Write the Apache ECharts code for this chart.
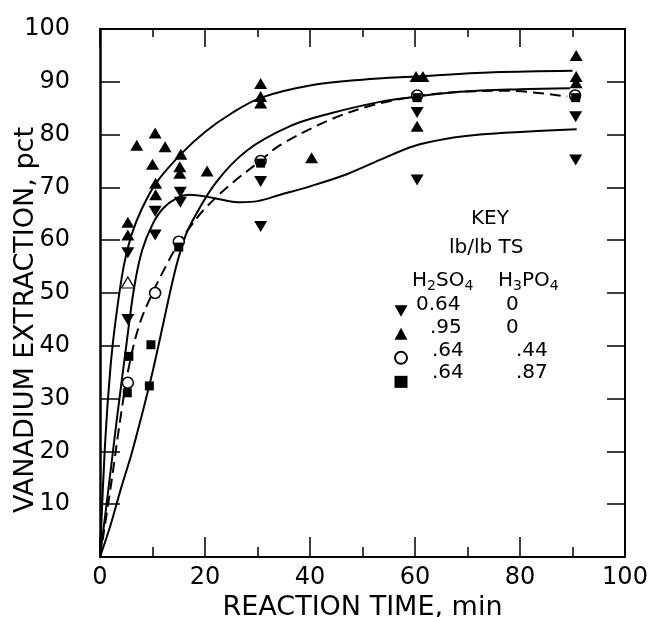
<!DOCTYPE html>
<html>
<head>
  <meta charset="utf-8">
  <title>Vanadium extraction</title>
  <script src="https://cdn.jsdelivr.net/npm/echarts@6/dist/echarts.min.js"></script>
</head>
<body style="margin:0">
  <div id="main" style="width:655px;height:617px;"></div>
  <script type="text/javascript">
    // measured points, [time min, extraction pct]
    var ptsDown = [[5.3, 57.6], [5.3, 45], [10.5, 65.5], [10.5, 61], [15.3, 69.1], [15.3, 67.2],
      [30.6, 71.1], [30.6, 62.6], [60.4, 84.2], [60.4, 71.4], [90.6, 83.4], [90.6, 75.2]];
    var ptsUp = [[5.3, 63.4], [5.3, 61], [7, 78], [10.5, 80.3], [12.4, 77.7], [10, 74.4],
      [10.6, 70.8], [10.6, 68.6], [15.4, 76.3], [15.2, 73.9], [15.2, 72.7], [20.4, 73.1],
      [30.6, 89.7], [30.6, 87.2], [30.6, 86], [40.3, 75.6], [60.2, 91], [61.5, 91],
      [60.4, 81.6], [90.7, 95], [90.7, 91], [90.7, 89.8]];
    var ptsCircle = [[5.3, 33], [10.5, 50], [15, 59.7], [30.6, 75], [60.4, 87.4], [90.5, 87.4]];
    var ptsSquare = [[5.5, 38], [5.2, 31.1], [9.7, 40.2], [9.4, 32.4], [15, 58.7],
      [30.6, 74.6], [60.4, 87], [90.6, 87]];
    var ptsOpenTri = [[5.3, 52]];

    // hand drawn fitted curves
    var curveUp = [[0, 0], [1, 22], [2, 36], [3, 45], [4.5, 55], [6, 61], [8, 66], [10.8, 71],
      [15.6, 76.5], [20, 80.5], [25, 84], [30.7, 87], [40, 89.3], [50, 90.4], [60, 91],
      [75, 91.8], [90, 92.1]];
    var curveDown = [[0, 0], [1.5, 12], [3.2, 26], [5, 40], [6.5, 51], [8, 58], [10, 63],
      [12, 66], [14.7, 68], [17, 68.6], [20, 68.3], [23.5, 67.6], [26.7, 67.2], [30, 67.4],
      [34.3, 68.6], [40, 70.2], [47, 72.5], [53.3, 75.2], [59.7, 77.8], [66, 79.2],
      [72.4, 80], [80, 80.5], [90.8, 81]];
    var curveCircle = [[0, 0], [2, 13], [4, 27], [5.5, 36], [7.5, 44], [10, 50], [12.5, 55],
      [15, 59.5], [17, 62.3], [20, 66], [24.8, 70.5], [30.5, 75], [34.3, 78], [43.8, 82.8],
      [52, 85.6], [58.7, 87], [62, 87.5], [68.6, 88.1], [77.5, 88.3], [89, 87.2]];
    var curveSquare = [[0, 0], [2, 6], [4, 13], [6, 19.5], [8, 27], [10, 35], [12, 44],
      [14, 53], [15.5, 58.5], [17, 62.5], [22, 70.8], [28, 77], [36.2, 81.6], [43.8, 84],
      [53.3, 86.2], [58.7, 87], [68.6, 88.1], [80, 88.6], [89.5, 88.8]];

    var xTicks = ['0', '20', '40', '60', '80', '100'];
    var keyNames = ['0.64 / 0', '.95 / 0', '.64 / .44', '.64 / .87'];

    var font = 'DejaVu Sans';
    var downTri = 'path://M0,0 L10,0 L5,9 Z';

    var myChart = echarts.init(document.getElementById('main'));

    function curve(data, type) {
      return {
        type: 'line', data: data, showSymbol: false, smooth: 0.35, silent: true,
        lineStyle: { color: '#000', width: 2, type: type }, z: 2
      };
    }

    // the top and right frame axes run -100..0 so that "on zero" puts them on the far edges
    var option = {
      backgroundColor: '#fff',
      animation: false,
      grid: { left: 100, right: 30, top: 29, bottom: 60, outerBoundsMode: 'none' },
      legend: {
        data: keyNames, orient: 'vertical', left: 389, top: 300,
        itemWidth: 13, itemHeight: 12, itemGap: 11, selectedMode: false,
        formatter: function () { return ''; }
      },
      xAxis: [{
        type: 'value', min: 0, max: 100, interval: 20,
        axisLine: { show: true, onZeroAxisIndex: 0, lineStyle: { color: '#000', width: 2 } },
        axisTick: { show: true, inside: true, length: 20, lineStyle: { color: '#000', width: 1.5 } },
        minorTick: { show: true, splitNumber: 2, length: 10, lineStyle: { color: '#000', width: 1.5 } },
        splitLine: { show: false },
        axisLabel: {
          color: '#000', fontFamily: font, fontSize: 24, margin: 9,
          formatter: function (v) { return xTicks[v / 20]; }
        },
        name: 'REACTION TIME, min', nameLocation: 'middle', nameGap: 29,
        nameTextStyle: { color: '#000', fontFamily: font, fontSize: 27 }
      }, {
        type: 'value', min: -100, max: 0, interval: 20, position: 'top',
        axisLine: { show: true, onZeroAxisIndex: 1, lineStyle: { color: '#000', width: 2 } },
        axisTick: { show: true, inside: true, length: 18, lineStyle: { color: '#000', width: 1.5 } },
        minorTick: { show: true, splitNumber: 2, length: 8, lineStyle: { color: '#000', width: 1.5 } },
        splitLine: { show: false }, axisLabel: { show: false }
      }],
      yAxis: [{
        type: 'value', min: 0, max: 100, interval: 10,
        axisLine: { show: true, onZeroAxisIndex: 0, lineStyle: { color: '#000', width: 2.5 } },
        axisTick: { show: true, inside: true, length: 20, lineStyle: { color: '#000', width: 1.5 } },
        splitLine: { show: false },
        axisLabel: {
          color: '#000', fontFamily: font, fontSize: 24, margin: 30,
          formatter: function (v) { return v === 0 ? '' : String(v); }
        },
        name: 'VANADIUM EXTRACTION, pct', nameLocation: 'middle', nameGap: 61, nameMoveOverlap: false,
        nameTextStyle: { color: '#000', fontFamily: font, fontSize: 27, padding: [0, 54, 0, 0] }
      }, {
        type: 'value', min: -100, max: 0, interval: 10, position: 'right',
        axisLine: { show: true, onZeroAxisIndex: 1, lineStyle: { color: '#000', width: 2 } },
        axisTick: { show: true, inside: true, length: 18, lineStyle: { color: '#000', width: 1.5 } },
        splitLine: { show: false }, axisLabel: { show: false }
      }],
      series: [
        curve(curveUp, 'solid'),
        curve(curveDown, 'solid'),
        curve(curveCircle, [11, 6]),
        curve(curveSquare, 'solid'),
        {
          name: keyNames[0], type: 'scatter', data: ptsDown, symbol: downTri, symbolSize: [13, 11],
          itemStyle: { color: '#000', opacity: 1 }, z: 5
        },
        {
          name: keyNames[1], type: 'scatter', data: ptsUp, symbol: 'triangle', symbolSize: [13, 11],
          itemStyle: { color: '#000', opacity: 1 }, z: 5
        },
        {
          name: keyNames[2], type: 'scatter', data: ptsCircle, symbol: 'circle', symbolSize: 11,
          itemStyle: { color: '#fff', borderColor: '#000', borderWidth: 1.5, opacity: 1 }, z: 5
        },
        {
          name: keyNames[3], type: 'scatter', data: ptsSquare, symbol: 'rect', symbolSize: 9,
          itemStyle: { color: '#000', opacity: 1 }, z: 6
        },
        {
          name: 'open', type: 'scatter', data: ptsOpenTri, symbol: 'triangle', symbolSize: [13, 11],
          itemStyle: { color: '#fff', borderColor: '#000', borderWidth: 1.2, opacity: 1 }, z: 5
        }
      ],
      graphic: [
        { type: 'text', left: 471, top: 209, style: { text: 'KEY', font: '20px ' + font, fill: '#000' } },
        { type: 'text', left: 449, top: 238, style: { text: 'lb/lb TS', font: '20px ' + font, fill: '#000' } },
        {
          type: 'text', left: 412, top: 271, style: {
            text: '{n|H}{s|2}{n|SO}{s|4}', fill: '#000',
            rich: { n: { fontFamily: font, fontSize: 20, lineHeight: 24 }, s: { fontFamily: font, fontSize: 14, padding: [10, 0, 0, 0] } }
          }
        },
        {
          type: 'text', left: 498, top: 271, style: {
            text: '{n|H}{s|3}{n|PO}{s|4}', fill: '#000',
            rich: { n: { fontFamily: font, fontSize: 20, lineHeight: 24 }, s: { fontFamily: font, fontSize: 14, padding: [10, 0, 0, 0] } }
          }
        },
        { type: 'text', left: 416, top: 295, style: { text: '0.64', font: '20px ' + font, fill: '#000' } },
        { type: 'text', left: 506, top: 295, style: { text: '0', font: '20px ' + font, fill: '#000' } },
        { type: 'text', left: 430, top: 318, style: { text: '.95', font: '20px ' + font, fill: '#000' } },
        { type: 'text', left: 506, top: 318, style: { text: '0', font: '20px ' + font, fill: '#000' } },
        { type: 'text', left: 432, top: 341, style: { text: '.64', font: '20px ' + font, fill: '#000' } },
        { type: 'text', left: 516, top: 341, style: { text: '.44', font: '20px ' + font, fill: '#000' } },
        { type: 'text', left: 432, top: 363, style: { text: '.64', font: '20px ' + font, fill: '#000' } },
        { type: 'text', left: 516, top: 363, style: { text: '.87', font: '20px ' + font, fill: '#000' } }
      ]
    };

    myChart.setOption(option);
  </script>
</body>
</html>
